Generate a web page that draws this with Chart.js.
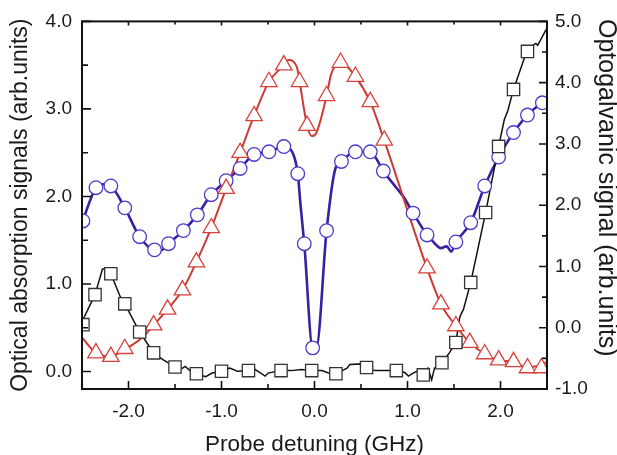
<!DOCTYPE html>
<html>
<head>
<meta charset="utf-8">
<script src="https://cdn.jsdelivr.net/npm/chart.js@4.4.1/dist/chart.umd.min.js"></script>
<style>
  html, body { margin: 0; padding: 0; background: #fff; }
  canvas { display: block; }
</style>
</head>
<body>
<canvas id="chart" width="617" height="455"></canvas>
<script>
// axis ticks
const xTicks = [-2, -1, 0, 1, 2]
const xMinor = [-1.5, -0.5, 0.5, 1.5]
const yTicks = [0, 1, 2, 3, 4]
const yMinor = [0.5, 1.5, 2.5, 3.5]
const y2Ticks = [-1, 0, 1, 2, 3, 4, 5]
const y2Minor = [-0.5, 0.5, 1.5, 2.5, 3.5, 4.5]

// blue circles (optical absorption, left axis)
const blueMarkX = [-2.49, -2.35, -2.19, -2.04, -1.88, -1.72, -1.57, -1.41, -1.26, -1.11, -0.95, -0.80, -0.65, -0.49, -0.33, -0.18, -0.11, -0.02, 0.13, 0.29, 0.44, 0.60, 0.74, 1.06, 1.21, 1.52, 1.68, 1.83, 1.98, 2.14, 2.29, 2.45]
const blueMarkY = [1.72, 2.10, 2.12, 1.87, 1.54, 1.39, 1.46, 1.61, 1.79, 2.02, 2.18, 2.32, 2.48, 2.51, 2.57, 2.26, 1.46, 0.27, 1.61, 2.40, 2.51, 2.51, 2.29, 1.81, 1.56, 1.48, 1.70, 2.12, 2.45, 2.73, 2.93, 3.07]
const blueLineX = [-2.50, -2.35, -2.27, -2.19, -2.04, -1.88, -1.72, -1.64, -1.57, -1.41, -1.26, -1.11, -0.95, -0.80, -0.65, -0.49, -0.33, -0.24, -0.18, -0.15, -0.11, -0.02, 0.02, 0.13, 0.22, 0.29, 0.44, 0.60, 0.66, 0.74, 0.88, 0.96, 1.06, 1.21, 1.27, 1.36, 1.42, 1.47, 1.52, 1.68, 1.83, 1.98, 2.14, 2.29, 2.45, 2.50]
const blueLineY = [1.70, 2.10, 2.14, 2.12, 1.87, 1.54, 1.39, 1.39, 1.46, 1.61, 1.79, 2.02, 2.18, 2.32, 2.48, 2.51, 2.57, 2.51, 2.26, 1.90, 1.46, 0.28, 0.28, 1.61, 2.30, 2.40, 2.51, 2.51, 2.44, 2.29, 2.10, 1.99, 1.81, 1.56, 1.49, 1.41, 1.43, 1.37, 1.48, 1.70, 2.12, 2.45, 2.73, 2.93, 3.07, 3.10]

// red triangles (left axis)
const redMarkX = [-2.35, -2.19, -2.04, -1.73, -1.58, -1.42, -1.27, -1.11, -0.95, -0.80, -0.65, -0.49, -0.33, -0.16, -0.08, 0.13, 0.28, 0.44, 0.60, 0.75, 1.21, 1.36, 1.52, 1.67, 1.83, 1.98, 2.14, 2.29, 2.44]
const redMarkY = [0.21, 0.17, 0.26, 0.53, 0.71, 0.93, 1.25, 1.64, 2.09, 2.50, 2.92, 3.31, 3.50, 3.31, 2.81, 3.15, 3.53, 3.37, 3.08, 2.64, 1.18, 0.77, 0.52, 0.33, 0.20, 0.13, 0.11, 0.04, 0.04]
const redLineX = [-2.50, -2.35, -2.19, -2.04, -1.98, -1.84, -1.73, -1.58, -1.42, -1.27, -1.11, -0.95, -0.80, -0.65, -0.49, -0.33, -0.28, -0.19, -0.16, -0.08, -0.03, 0.01, 0.13, 0.18, 0.28, 0.44, 0.60, 0.75, 1.21, 1.36, 1.52, 1.67, 1.83, 1.98, 2.14, 2.29, 2.38, 2.44, 2.47, 2.50]
const redLineY = [0.39, 0.21, 0.17, 0.26, 0.29, 0.40, 0.53, 0.71, 0.93, 1.25, 1.64, 2.09, 2.50, 2.92, 3.31, 3.50, 3.56, 3.48, 3.31, 2.81, 2.69, 2.71, 3.15, 3.40, 3.53, 3.37, 3.08, 2.64, 1.18, 0.77, 0.52, 0.33, 0.20, 0.13, 0.11, 0.04, 0.06, 0.04, 0.10, 0.10]

// black squares (optogalvanic, right axis)
const blackMarkX = [-2.49, -2.36, -2.19, -2.04, -1.88, -1.73, -1.50, -1.27, -1.00, -0.71, -0.36, -0.03, 0.23, 0.56, 0.88, 1.17, 1.37, 1.52, 1.68, 1.84, 1.98, 2.14, 2.29]
const blackMarkY = [0.05, 0.54, 0.88, 0.39, -0.07, -0.41, -0.64, -0.75, -0.71, -0.70, -0.70, -0.70, -0.75, -0.65, -0.70, -0.77, -0.57, -0.24, 0.74, 1.88, 2.96, 3.89, 4.51]
const blackLineX = [-2.50, -2.36, -2.28, -2.25, -2.19, -2.09, -2.04, -1.88, -1.73, -1.63, -1.50, -1.44, -1.39, -1.34, -1.27, -1.17, -1.10, -1.00, -0.91, -0.83, -0.71, -0.64, -0.53, -0.50, -0.36, -0.25, -0.14, -0.03, 0.08, 0.15, 0.23, 0.35, 0.38, 0.51, 0.56, 0.65, 0.76, 0.88, 0.97, 1.01, 1.06, 1.10, 1.17, 1.22, 1.26, 1.29, 1.37, 1.45, 1.52, 1.56, 1.58, 1.60, 1.68, 1.84, 1.98, 2.04, 2.08, 2.14, 2.26, 2.29, 2.35, 2.38, 2.40, 2.47, 2.50]
const blackLineY = [0.10, 0.54, 0.96, 0.96, 0.88, 0.51, 0.39, -0.07, -0.41, -0.52, -0.64, -0.68, -0.63, -0.70, -0.75, -0.80, -0.74, -0.71, -0.66, -0.71, -0.70, -0.68, -0.79, -0.74, -0.70, -0.70, -0.68, -0.70, -0.70, -0.74, -0.75, -0.66, -0.60, -0.59, -0.65, -0.70, -0.70, -0.70, -0.73, -0.79, -0.74, -0.71, -0.77, -0.66, -0.85, -0.66, -0.57, -0.41, -0.24, 0.16, 0.24, 0.29, 0.74, 1.88, 2.96, 3.39, 3.55, 3.89, 4.42, 4.51, 4.61, 4.64, 4.61, 4.81, 4.89]

const rightTitle = 'Optogalvanic signal (arb.units)'

const pts = (xs, ys) => xs.map((x, i) => ({x: x, y: ys[i]}))

const font = 'Liberation Sans, Arial, sans-serif'
const ink = '#1a1a1a'

/**
 * frame box plus inward ticks, taken from the chart scales
 */
const frameTicks = {
    id: 'frameTicks',
    afterDraw(chart) {
        const {ctx, chartArea: a, scales} = chart
        ctx.save()
        ctx.strokeStyle = '#111'
        ctx.lineWidth = 2
        ctx.strokeRect(a.left, a.top, a.right - a.left, a.bottom - a.top)
        ctx.lineWidth = 1.6
        ctx.beginPath()
        const seg = (x1, y1, x2, y2) => { ctx.moveTo(x1, y1); ctx.lineTo(x2, y2) }
        xTicks.forEach(v => {
            const p = scales.x.getPixelForValue(v)
            seg(p, a.bottom, p, a.bottom - 8)
            seg(p, a.top, p, a.top + 4)
        })
        xMinor.forEach(v => {
            const p = scales.x.getPixelForValue(v)
            seg(p, a.bottom, p, a.bottom - 5)
            seg(p, a.top, p, a.top + 3)
        })
        yTicks.forEach(v => {
            const p = scales.y.getPixelForValue(v)
            seg(a.left, p, a.left + 9, p)
        })
        yMinor.forEach(v => {
            const p = scales.y.getPixelForValue(v)
            seg(a.left, p, a.left + 6, p)
        })
        y2Ticks.forEach(v => {
            const p = scales.y2.getPixelForValue(v)
            seg(a.right, p, a.right - 8, p)
        })
        y2Minor.forEach(v => {
            const p = scales.y2.getPixelForValue(v)
            seg(a.right, p, a.right - 5, p)
        })
        ctx.stroke()

        // right axis title sits a little above centre in the original
        ctx.fillStyle = ink
        ctx.font = '25px ' + font
        ctx.textAlign = 'left'
        ctx.textBaseline = 'alphabetic'
        ctx.translate(599, 19)
        ctx.rotate(Math.PI / 2)
        ctx.fillText(rightTitle, 0, 0)
        ctx.restore()
    }
}

const fixTicks = list => scale => { scale.ticks = list.map(v => ({value: v})) }

const chart = new Chart(document.getElementById('chart'), {
    type: 'scatter',
    data: {
        datasets: [
            {
                data: pts(blackMarkX, blackMarkY), yAxisID: 'y2', order: 1,
                pointStyle: 'rect', pointRadius: 8.7, borderWidth: 1.3,
                borderColor: '#333', backgroundColor: '#fff', clip: 0,
            },
            {
                data: pts(redMarkX, redMarkY), yAxisID: 'y', order: 2,
                pointStyle: 'triangle', pointRadius: 9.5, borderWidth: 1.3,
                borderColor: '#d8413c', backgroundColor: '#fff', clip: 0,
            },
            {
                data: pts(blueMarkX, blueMarkY), yAxisID: 'y', order: 3,
                pointStyle: 'circle', pointRadius: 6.8, borderWidth: 1.3,
                borderColor: '#4a3ccb', backgroundColor: '#fff', clip: 0,
            },
            {
                data: pts(blackLineX, blackLineY), yAxisID: 'y2', order: 4,
                showLine: true, pointRadius: 0, borderWidth: 1.5, borderColor: '#111',
                tension: 0, clip: 0,
            },
            {
                data: pts(redLineX, redLineY), yAxisID: 'y', order: 5,
                showLine: true, pointRadius: 0, borderWidth: 2, borderColor: '#cc3a33',
                cubicInterpolationMode: 'monotone', clip: 0,
            },
            {
                data: pts(blueLineX, blueLineY), yAxisID: 'y', order: 6,
                showLine: true, pointRadius: 0, borderWidth: 2.6, borderColor: '#3a1fa3',
                cubicInterpolationMode: 'monotone', clip: 0,
            },
        ]
    },
    options: {
        responsive: false,
        animation: false,
        devicePixelRatio: 1,
        layout: {padding: {top: 21, left: 0, right: 0, bottom: 0}},
        plugins: {legend: {display: false}, tooltip: {enabled: false}},
        scales: {
            x: {
                type: 'linear', position: 'bottom', min: -2.5, max: 2.5,
                grid: {display: false, drawTicks: false}, border: {display: false},
                afterBuildTicks: fixTicks(xTicks),
                afterFit: s => { s.height = 66 },
                ticks: {color: ink, font: {family: font, size: 19}, padding: 11, maxRotation: 0,
                    callback: v => v.toFixed(1)},
                title: {display: true, text: 'Probe detuning (GHz)', color: ink,
                    font: {family: font, size: 22.5, lineHeight: 1}, padding: {bottom: -1.5}},
            },
            y: {
                type: 'linear', position: 'left', min: -0.2, max: 4.0,
                grid: {display: false, drawTicks: false}, border: {display: false},
                afterBuildTicks: fixTicks(yTicks),
                afterFit: s => { s.width = 82 },
                ticks: {color: ink, font: {family: font, size: 19}, padding: 10,
                    callback: v => v.toFixed(1)},
                title: {display: true, text: 'Optical absorption signals (arb.units)', color: ink,
                    font: {family: font, size: 23, lineHeight: 1}, padding: {top: 9.5}},
            },
            y2: {
                type: 'linear', position: 'right', min: -1, max: 5,
                grid: {display: false, drawTicks: false}, border: {display: false},
                afterBuildTicks: fixTicks(y2Ticks),
                afterFit: s => { s.width = 70 },
                ticks: {color: ink, font: {family: font, size: 19}, padding: 8,
                    callback: v => v.toFixed(1)},
            },
        }
    },
    plugins: [frameTicks]
})
</script>
</body>
</html>
